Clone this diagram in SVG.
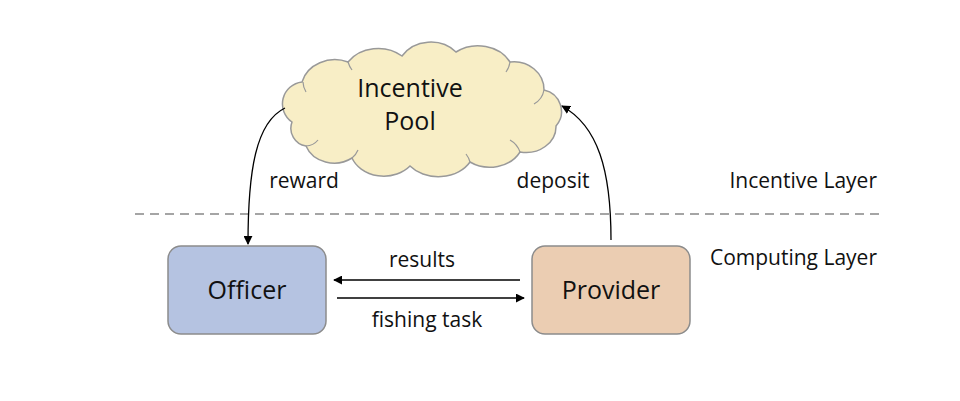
<svg xmlns="http://www.w3.org/2000/svg" width="960" height="401" viewBox="0 0 960 401">
<defs>
<style>
.t{font-family:"Open Sans","Liberation Sans",sans-serif;fill:#111;font-variant-ligatures:none}
.lbl{font-size:21px}
.big{font-size:25px}
.box{stroke:#8c8c8c;stroke-width:1.5}
.ln{fill:none;stroke:#000;stroke-width:1.3}
</style>
<marker id="ah" viewBox="0 0 10 10" refX="9" refY="5" markerWidth="9" markerHeight="9" markerUnits="userSpaceOnUse" orient="auto">
<path d="M0,0 L10,5 L0,10 z" fill="#000"/>
</marker>
</defs>
<rect width="960" height="401" fill="#fff"/>
<line x1="135" y1="214" x2="880" y2="214" stroke="#888" stroke-width="1.3" stroke-dasharray="9,6"/>
<g id="pool">
<path d="M292,122 A22,22 0 0 1 302,82 A34,30 0 0 1 348,62 A36,30 0 0 1 402,56 A34,30 0 0 1 456,52 A36,30 0 0 1 510,62 A30,28 0 0 1 544,90 A22,22 0 0 1 556,126 A30,26 0 0 1 520,152 A34,28 0 0 1 470,162 A36,28 0 0 1 410,166 A34,28 0 0 1 352,158 A30,26 0 0 1 306,146 A18,18 0 0 1 292,122 Z" fill="#f8eec6" stroke="#999" stroke-width="1.5"/>
<path d="M303,82 A20,20 0 0 0 306,92 M348,62 A26,26 0 0 0 352,70 M510,62 A22,22 0 0 1 506,72 M544,90 A20,20 0 0 1 534,104 M520,152 A22,22 0 0 0 510,140 M470,162 A22,22 0 0 0 466,154 M352,158 A20,20 0 0 0 358,150 M306,146 A16,16 0 0 0 318,140" fill="none" stroke="#999" stroke-width="1.2"/>
<text class="t big" x="410" y="97" text-anchor="middle">Incentive</text>
<text class="t big" x="410" y="130" text-anchor="middle">Pool</text>
</g>
<g id="officer">
<rect class="box" x="168" y="246" width="158" height="88" rx="13" fill="#b5c3e1"/>
<text class="t big" x="247" y="299" text-anchor="middle">Officer</text>
</g>
<g id="provider">
<rect class="box" x="532" y="246" width="158" height="88" rx="13" fill="#ebcdb2"/>
<text class="t big" x="611" y="299" text-anchor="middle">Provider</text>
</g>
<g id="connectors">
<path class="ln" d="M285,108 C256,122 248,170 248,244" marker-end="url(#ah)"/>
<path class="ln" d="M611,240 C611,170 598,126 562,106" marker-end="url(#ah)"/>
<line class="ln" x1="520" y1="280" x2="334" y2="280" marker-end="url(#ah)"/>
<line class="ln" x1="337" y1="298" x2="524" y2="298" marker-end="url(#ah)"/>
</g>
<g id="labels">
<text class="t lbl" x="304" y="188" text-anchor="middle">reward</text>
<text class="t lbl" x="553" y="188" text-anchor="middle">deposit</text>
<text class="t lbl" x="877" y="188" text-anchor="end">Incentive Layer</text>
<text class="t lbl" x="877" y="265" text-anchor="end">Computing Layer</text>
<text class="t lbl" x="422" y="267" text-anchor="middle">results</text>
<text class="t lbl" x="427" y="327" text-anchor="middle">fishing task</text>
</g>
</svg>
